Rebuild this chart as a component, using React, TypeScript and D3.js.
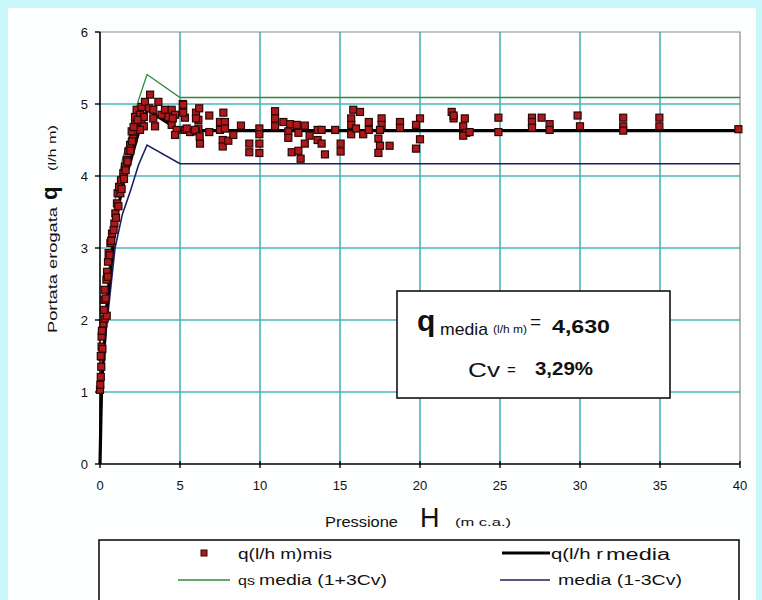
import React, { useRef, useEffect } from "react";
import * as d3 from "d3";

// measured points q(l/h m)mis : pressure H (m c.a.) and flow q (l/h m)
const hMis = [
  0.0, 0.02, 0.05, 0.08, 0.1, 0.1, 0.1, 0.15, 0.2, 0.29, 0.42, 0.25, 0.25, 0.29, 0.4, 0.44, 0.5, 0.54,
  0.65, 0.75, 0.9, 0.96, 1.06, 1.1, 1.27, 1.19, 1.31, 1.46, 1.56, 1.67, 1.77, 1.88, 2.08, 1.98, 2.19,
  2.19, 2.29, 2.5, 2.6, 2.6, 2.74, 2.74, 2.5, 2.81, 3.13, 3.07, 3.33, 3.33, 3.44, 3.65, 3.85, 4.06, 4.27,
  4.48, 4.48, 4.69, 4.79, 4.69, 0.35, 0.48, 0.6, 0.7, 0.85, 1.0, 1.15, 1.35, 1.5, 1.6, 1.72, 1.9, 2.0,
  2.1, 2.35, 0.05, 0.12,
  4.55, 5.17, 5.17, 5.31, 5.31, 5.63, 6.0, 6.2, 6.15, 6.15, 6.0, 6.25, 6.83, 6.83, 7.5, 7.71, 7.5, 7.81,
  7.81, 7.67, 7.67, 8.02, 8.33, 8.81, 9.33, 9.33, 9.96, 9.96, 9.96, 9.96, 10.94, 10.94, 10.94, 11.46,
  11.77, 11.77, 11.88, 12.3, 12.4, 11.98, 12.4, 12.54, 12.8, 12.8, 13.1, 13.6, 13.6, 5.2, 5.2, 5.42,
  5.94, 6.0, 6.23,
  13.85, 13.85, 14.06, 14.7, 15.04, 15.04, 15.83, 15.7, 15.7, 15.7, 16.25, 16.0, 16.45, 16.8, 16.8,
  17.6, 17.6, 17.5, 17.4, 17.5, 17.4, 18.1, 18.75, 18.75, 20.0, 19.75, 20.0, 19.75, 21.98, 22.1, 22.8,
  22.7, 22.9, 22.7, 22.1,
  23.1, 24.9, 24.9, 27.0, 27.0, 27.0, 27.6, 28.1, 28.1, 29.85, 30.0, 32.7, 32.7, 32.7, 34.96, 34.96, 39.9,
];
const qMis = [
  1.03, 1.1, 1.21, 1.35, 1.49, 1.63, 1.77, 1.6, 1.95, 2.02, 2.06, 2.14, 2.28, 2.42, 2.56, 2.67, 2.81, 2.93,
  3.07, 3.2, 3.34, 3.48, 3.62, 3.76, 3.76, 3.85, 3.94, 4.04, 4.13, 4.22, 4.34, 4.43, 4.52, 4.62, 4.73,
  4.82, 4.92, 4.85, 4.75, 4.96, 4.82, 4.69, 4.64, 5.03, 5.13, 4.94, 4.92, 4.8, 4.69, 5.03, 4.85, 4.92, 4.82,
  4.92, 4.71, 4.85, 4.64, 4.57, 2.3, 2.6, 2.9, 3.1, 3.25, 3.42, 3.58, 3.82, 3.96, 4.08, 4.2, 4.35, 4.48,
  4.68, 4.78, 1.5, 1.85,
  4.8, 5.0, 4.89, 4.81, 4.64, 4.61, 4.88, 4.94, 4.78, 4.66, 4.62, 4.45, 4.84, 4.61, 4.75, 4.88, 4.64, 4.75,
  4.66, 4.5, 4.41, 4.49, 4.57, 4.7, 4.45, 4.33, 4.66, 4.58, 4.45, 4.32, 4.9, 4.8, 4.69, 4.75,
  4.62, 4.53, 4.72, 4.71, 4.6, 4.33, 4.35, 4.24, 4.7, 4.45, 4.56, 4.64, 4.5, 4.99, 4.88, 4.66,
  4.64, 4.8, 4.55,
  4.64, 4.45, 4.3, 4.64, 4.45, 4.34, 4.92, 4.8, 4.71, 4.58, 4.89, 4.66, 4.58, 4.75, 4.64,
  4.8, 4.71, 4.64, 4.52, 4.42, 4.32, 4.42, 4.75, 4.67, 4.8, 4.71, 4.51, 4.38, 4.89, 4.8, 4.8,
  4.69, 4.6, 4.56, 4.84,
  4.61, 4.81, 4.61, 4.81, 4.75, 4.67, 4.81, 4.72, 4.64, 4.84, 4.69, 4.81, 4.69, 4.63, 4.81, 4.69, 4.65,
];

// q media curve and the (1+3Cv) / (1-3Cv) bands
const curveH = [0, 0.1, 0.4, 0.94, 1.4, 1.9, 2.4, 2.94, 5, 40];
const mediaQ = [0, 1.1, 2.1, 3.33, 3.85, 4.2, 4.6, 4.92, 4.63, 4.63];
const upperQ = [0, 1.21, 2.31, 3.66, 4.23, 4.61, 5.05, 5.41, 5.09, 5.09];
const lowerQ = [0, 0.99, 1.89, 3.0, 3.47, 3.79, 4.15, 4.43, 4.17, 4.17];

const hTicks = [0, 5, 10, 15, 20, 25, 30, 35, 40];
const qTicks = [0, 1, 2, 3, 4, 5, 6];

const qMedia = "4,630";
const cv = "3,29%";

const FONT = "'Liberation Sans', Arial, sans-serif";

export default function App() {
  const ref = useRef<SVGSVGElement>(null);

  useEffect(() => {
    const svg = d3.select(ref.current);
    svg.selectAll("*").remove();

    const x = d3.scaleLinear().domain([0, 40]).range([100, 740]);
    const y = d3.scaleLinear().domain([0, 6]).range([464, 32]);

    // background
    svg.append("rect").attr("width", 762).attr("height", 600).attr("fill", "#c9f7fb");
    svg.append("rect").attr("x", 8).attr("y", 8).attr("width", 748).attr("height", 592).attr("fill", "#fdfefe");
    svg.append("rect").attr("x", 100).attr("y", 32).attr("width", 640).attr("height", 432).attr("fill", "#fff");

    const g = svg.append("g");

    // grid
    g.selectAll("line.vg")
      .data(hTicks.filter((d) => d > 0 && d < 40))
      .join("line")
      .attr("x1", (d) => x(d)).attr("x2", (d) => x(d))
      .attr("y1", y(6)).attr("y2", y(0))
      .attr("stroke", "#4cb5b5").attr("stroke-width", 1.6);
    g.selectAll("line.hg")
      .data(qTicks.filter((d) => d > 0 && d < 6))
      .join("line")
      .attr("x1", x(0)).attr("x2", x(40))
      .attr("y1", (d) => y(d)).attr("y2", (d) => y(d))
      .attr("stroke", "#4cb5b5").attr("stroke-width", 1.6);

    // plot border (top/right gray)
    g.append("path")
      .attr("d", `M${x(0)},${y(6)}H${x(40)}V${y(0)}`)
      .attr("fill", "none").attr("stroke", "#8a8a8a").attr("stroke-width", 1.2);

    // lines
    const line = d3.line<number>().x((d, i) => x(curveH[i])).y((d) => y(d));
    g.append("path").attr("d", line(upperQ)).attr("fill", "none").attr("stroke", "#2f8a3a").attr("stroke-width", 1.3);
    g.append("path").attr("d", line(lowerQ)).attr("fill", "none").attr("stroke", "#1c1f66").attr("stroke-width", 1.6);
    g.append("path").attr("d", line(mediaQ)).attr("fill", "none").attr("stroke", "#000").attr("stroke-width", 3.2);

    // axes
    g.append("line").attr("x1", x(0)).attr("x2", x(0)).attr("y1", y(6)).attr("y2", y(0)).attr("stroke", "#000").attr("stroke-width", 1.6);
    g.append("line").attr("x1", x(0)).attr("x2", x(40)).attr("y1", y(0)).attr("y2", y(0)).attr("stroke", "#000").attr("stroke-width", 1.6);
    g.selectAll("line.yt").data(qTicks).join("line")
      .attr("x1", x(0) - 5).attr("x2", x(0))
      .attr("y1", (d) => y(d)).attr("y2", (d) => y(d))
      .attr("stroke", "#000").attr("stroke-width", 1.4);
    g.selectAll("line.xt").data(hTicks).join("line")
      .attr("x1", (d) => x(d)).attr("x2", (d) => x(d))
      .attr("y1", y(0) - 3).attr("y2", y(0) + 4)
      .attr("stroke", "#000").attr("stroke-width", 1.4);

    // markers
    const s = 7;
    g.selectAll("rect.pt")
      .data(d3.range(hMis.length))
      .join("rect")
      .attr("x", (i) => x(hMis[i]) - s / 2)
      .attr("y", (i) => y(qMis[i]) - s / 2)
      .attr("width", s).attr("height", s)
      .attr("fill", "#b0191c").attr("stroke", "#2b0606").attr("stroke-width", 1.2);

    // tick labels
    const t = svg.append("g").attr("font-family", FONT).attr("fill", "#111");
    t.selectAll("text.yl").data(qTicks).join("text")
      .attr("x", 88).attr("y", (d) => y(d) + 4.5)
      .attr("text-anchor", "end").attr("font-size", 13)
      .text((d) => d);
    t.selectAll("text.xl").data(hTicks).join("text")
      .attr("x", (d) => x(d)).attr("y", 490)
      .attr("text-anchor", "middle").attr("font-size", 13)
      .text((d) => d);

    // x axis title
    t.append("text").attr("x", 325).attr("y", 527).attr("font-size", 15)
      .attr("textLength", 73).attr("lengthAdjust", "spacingAndGlyphs").text("Pressione");
    t.append("text").attr("x", 420).attr("y", 527).attr("font-size", 27).text("H");
    t.append("text").attr("x", 455).attr("y", 526).attr("font-size", 11)
      .attr("textLength", 56).attr("lengthAdjust", "spacingAndGlyphs").text("(m c.a.)");

    // y axis title
    const yt = t.append("g").attr("transform", "translate(57,333) rotate(-90)");
    yt.append("text").attr("x", 0).attr("y", 0).attr("font-size", 13)
      .attr("textLength", 126).attr("lengthAdjust", "spacingAndGlyphs").text("Portata erogata");
    yt.append("text").attr("x", 133).attr("y", 0).attr("font-size", 22).attr("font-weight", "bold").text("q");
    yt.append("text").attr("x", 162).attr("y", -1).attr("font-size", 11)
      .attr("textLength", 46).attr("lengthAdjust", "spacingAndGlyphs").text("(l/h m)");

    // statistics box
    const b = svg.append("g").attr("font-family", FONT).attr("fill", "#111");
    b.append("rect").attr("x", 397).attr("y", 291).attr("width", 273).attr("height", 107)
      .attr("fill", "#fff").attr("stroke", "#111").attr("stroke-width", 1.6);
    b.append("text").attr("x", 417).attr("y", 331).attr("font-size", 30).attr("font-weight", "bold").text("q");
    b.append("text").attr("x", 440).attr("y", 335).attr("font-size", 17)
      .attr("textLength", 48).attr("lengthAdjust", "spacingAndGlyphs").text("media");
    b.append("text").attr("x", 493).attr("y", 333).attr("font-size", 10)
      .attr("textLength", 34).attr("lengthAdjust", "spacingAndGlyphs").text("(l/h m)");
    b.append("text").attr("x", 530).attr("y", 328).attr("font-size", 19).text("=");
    b.append("text").attr("x", 552).attr("y", 333).attr("font-size", 19).attr("font-weight", "bold")
      .attr("textLength", 58).attr("lengthAdjust", "spacingAndGlyphs").text(qMedia);
    b.append("text").attr("x", 468).attr("y", 377).attr("font-size", 20)
      .attr("textLength", 32).attr("lengthAdjust", "spacingAndGlyphs").text("Cv");
    b.append("text").attr("x", 507).attr("y", 375).attr("font-size", 15).text("=");
    b.append("text").attr("x", 535).attr("y", 375).attr("font-size", 18).attr("font-weight", "bold")
      .attr("textLength", 58).attr("lengthAdjust", "spacingAndGlyphs").text(cv);

    // legend
    const l = svg.append("g").attr("font-family", FONT).attr("fill", "#111");
    l.append("rect").attr("x", 99).attr("y", 540).attr("width", 640).attr("height", 70)
      .attr("fill", "#fff").attr("stroke", "#111").attr("stroke-width", 1.6);
    l.append("rect").attr("x", 201).attr("y", 550).attr("width", 6).attr("height", 6)
      .attr("fill", "#b0191c").attr("stroke", "#2b0606").attr("stroke-width", 1);
    l.append("text").attr("x", 238).attr("y", 559).attr("font-size", 15)
      .attr("textLength", 94).attr("lengthAdjust", "spacingAndGlyphs").text("q(l/h m)mis");
    l.append("line").attr("x1", 178).attr("x2", 230).attr("y1", 580).attr("y2", 580)
      .attr("stroke", "#2f8a3a").attr("stroke-width", 1.3);
    l.append("text").attr("x", 238).attr("y", 585).attr("font-size", 12)
      .attr("textLength", 17).attr("lengthAdjust", "spacingAndGlyphs").text("qs");
    l.append("text").attr("x", 259).attr("y", 585).attr("font-size", 15)
      .attr("textLength", 128).attr("lengthAdjust", "spacingAndGlyphs").text("media (1+3Cv)");
    l.append("line").attr("x1", 502).attr("x2", 550).attr("y1", 553).attr("y2", 553)
      .attr("stroke", "#000").attr("stroke-width", 3.2);
    l.append("text").attr("x", 551).attr("y", 559).attr("font-size", 15)
      .attr("textLength", 52).attr("lengthAdjust", "spacingAndGlyphs").text("q(l/h r");
    l.append("text").attr("x", 606).attr("y", 560).attr("font-size", 16)
      .attr("textLength", 64).attr("lengthAdjust", "spacingAndGlyphs").text("media");
    l.append("line").attr("x1", 500).attr("x2", 550).attr("y1", 580).attr("y2", 580)
      .attr("stroke", "#1c1f66").attr("stroke-width", 1.6);
    l.append("text").attr("x", 558).attr("y", 585).attr("font-size", 15)
      .attr("textLength", 124).attr("lengthAdjust", "spacingAndGlyphs").text("media (1-3Cv)");

    return () => {
      svg.selectAll("*").remove();
    };
  }, []);

  return (
    <svg
      ref={ref}
      width={762}
      height={600}
      style={{ position: "absolute", left: 0, top: 0, display: "block" }}
    />
  );
}
